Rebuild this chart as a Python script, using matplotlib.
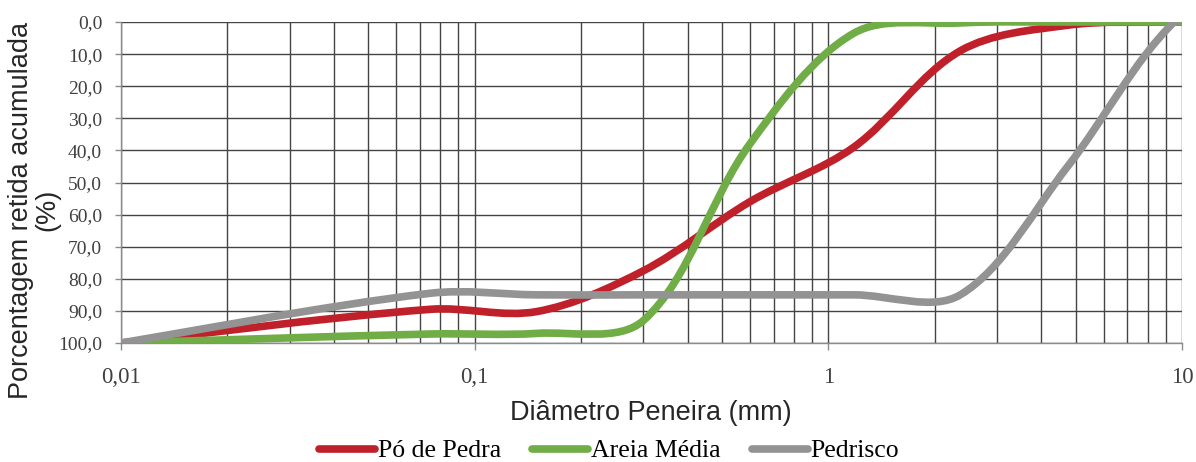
import matplotlib
matplotlib.use("Agg")
import matplotlib.pyplot as plt
import numpy as np
from matplotlib.path import Path
from matplotlib.patches import PathPatch
from matplotlib.lines import Line2D
from matplotlib.ticker import LogLocator, FixedLocator, FuncFormatter

# Curva granulométrica - porcentagem retida acumulada
peneiras = [0.01, 0.075, 0.15, 0.3, 0.6, 1.18, 2.36, 4.75, 9.5, 12.5]  # mm
po_pedra = [100.0, 89.5, 90.2, 77.5, 56.0, 39.0, 9.0, 1.0, 0.0, 0.0]
areia_media = [100.0, 97.2, 97.0, 93.0, 38.0, 3.5, 0.3, 0.0, 0.0, 0.0]
pedrisco = [100.0, 84.5, 85.0, 85.0, 85.0, 85.0, 85.0, 45.0, 0.0, 0.0]

series = ["Pó de Pedra", "Areia Média", "Pedrisco"]
cores = ["#C0202A", "#70AD47", "#939393"]

rotulos_x = ["0,01", "0,1", "1", "10"]
ticks_x = [0.01, 0.1, 1, 10]


def caminho_suave(ax, x, y):
    """Linha suavizada tipo Excel: Bezier calculada em coordenadas de tela"""
    pts = ax.transData.transform(np.column_stack([x, y]))
    n = len(pts)
    d = np.hypot(*np.diff(pts, axis=0).T)
    verts = [pts[0]]
    codes = [Path.MOVETO]
    for i in range(n - 1):
        i0 = max(i - 1, 0)
        i3 = min(i + 2, n - 1)
        da = d[i0] if i > 0 else d[i]
        db = d[i + 1] if i + 1 < n - 1 else d[i]
        c1 = pts[i] + (pts[i + 1] - pts[i0]) * d[i] / (da + d[i]) / 3
        c2 = pts[i + 1] - (pts[i3] - pts[i]) * d[i] / (d[i] + db) / 3
        verts += [c1, c2, pts[i + 1]]
        codes += [Path.CURVE4] * 3
    verts = ax.transData.inverted().transform(np.array(verts))
    return Path(verts, codes)


fig = plt.figure(figsize=(11.96, 4.62), dpi=100)
ax = fig.add_axes([121 / 1196, 1 - 343 / 462, (1182 - 121) / 1196, (343 - 22) / 462])

ax.set_xscale("log")
ax.set_xlim(0.01, 10)
ax.set_ylim(100, 0)

for valores, cor in zip([po_pedra, areia_media, pedrisco], cores):
    patch = PathPatch(caminho_suave(ax, peneiras, valores), fill=False, edgecolor=cor,
                      lw=5.5, capstyle="round", joinstyle="round", zorder=3)
    ax.add_patch(patch)

# grade
ax.xaxis.set_major_locator(FixedLocator(ticks_x))
ax.xaxis.set_minor_locator(LogLocator(base=10, subs=np.arange(2, 10)))
ax.xaxis.set_minor_formatter(FuncFormatter(lambda v, p: ""))
ax.set_xticklabels(rotulos_x)
ax.set_yticks(np.arange(0, 101, 10))
ax.yaxis.set_major_formatter(FuncFormatter(lambda v, p: f"{v:.1f}".replace(".", ",")))
ax.grid(which="both", color="#444444", lw=1.0)
ax.set_axisbelow(True)

for lado in ["top", "right"]:
    ax.spines[lado].set_visible(False)
for lado in ["left", "bottom"]:
    ax.spines[lado].set_color("#8c8c8c")
    ax.spines[lado].set_linewidth(1.0)

ax.tick_params(axis="x", which="major", length=5, width=1, color="#8c8c8c", pad=12)
ax.tick_params(axis="x", which="minor", length=0)
ax.tick_params(axis="y", length=4.5, width=1, color="#8c8c8c", pad=9)
for lab in ax.get_xticklabels():
    lab.set_fontfamily("Liberation Serif")
    lab.set_fontsize(16.5)
    lab.set_color("#404040")
for lab in ax.get_yticklabels():
    lab.set_fontfamily("Liberation Serif")
    lab.set_fontsize(14)
    lab.set_color("#404040")

fig.text(651 / 1196, 1 - 420 / 462, "Diâmetro Peneira (mm)", ha="center", va="baseline",
         fontsize=19.5, family="Liberation Sans", color="#262626")
fig.text(34 / 1196, 1 - 210 / 462, "Porcentagem retida acumulada\n(%)", rotation=90,
         ha="center", va="center", multialignment="center", linespacing=1.0,
         fontsize=19.5, family="Liberation Sans", color="#262626")

handles = [Line2D([], [], color=c, lw=5.5, solid_capstyle="round") for c in cores]
fig.legend(handles, series, loc="center", bbox_to_anchor=(609 / 1196, 1 - 451 / 462),
           ncol=3, frameon=False, handlelength=2.2, handletextpad=0.1, columnspacing=1.2,
           prop={"family": "Liberation Serif", "size": 18.5})

fig.savefig("out.png", dpi=100)
